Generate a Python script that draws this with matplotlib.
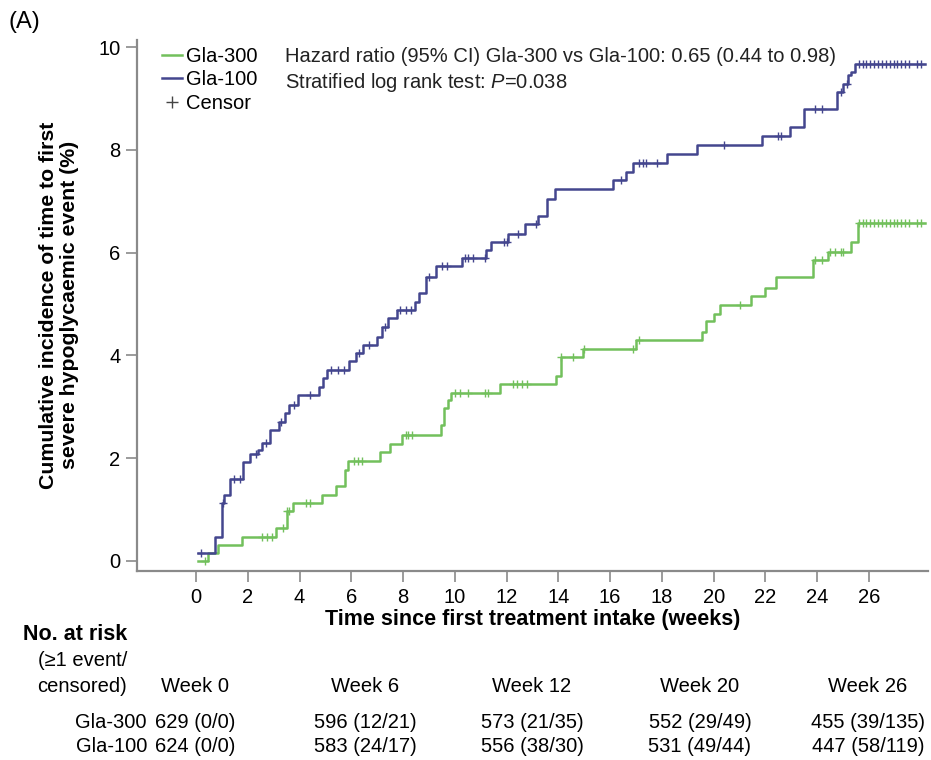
import numpy as np
import matplotlib
matplotlib.use("Agg")
import matplotlib.pyplot as plt
from matplotlib.lines import Line2D

plt.rcParams['font.family'] = ['Liberation Sans', 'DejaVu Sans']
plt.rcParams['mathtext.fontset'] = 'custom'
plt.rcParams['mathtext.rm'] = 'Liberation Sans'
plt.rcParams['mathtext.it'] = 'Liberation Sans:italic'

# step curves: time (weeks) where a new level starts, cumulative incidence (%)
gla100_t = [0.09, 0.73, 0.99, 1.1, 1.31, 1.8, 2.1, 2.4, 2.55, 2.86, 3.2, 3.45, 3.6, 3.95,
            4.75, 4.9, 5.05, 5.9, 6.2, 6.46, 7.0, 7.2, 7.4, 7.75, 8.46, 8.6, 8.88, 9.29,
            10.28, 11.2, 11.4, 12.05, 12.7, 13.2, 13.55, 13.85, 16.1, 16.6, 16.9, 18.2,
            19.35, 21.85, 22.95, 23.5, 24.75, 25.0, 25.2, 25.3, 25.45, 28.15]
gla100_v = [0.16, 0.47, 1.12, 1.28, 1.59, 1.93, 2.08, 2.16, 2.29, 2.55, 2.71, 2.87, 3.03, 3.23,
            3.39, 3.55, 3.72, 3.88, 4.04, 4.2, 4.36, 4.56, 4.72, 4.88, 5.04, 5.21, 5.53, 5.73,
            5.89, 6.05, 6.21, 6.37, 6.56, 6.72, 7.04, 7.23, 7.41, 7.57, 7.74, 7.92,
            8.09, 8.27, 8.44, 8.79, 9.13, 9.29, 9.45, 9.52, 9.67, 9.67]

gla300_t = [0.09, 0.48, 0.86, 1.76, 3.1, 3.5, 3.76, 4.85, 5.4, 5.75, 5.88, 7.1, 7.5, 7.94,
            9.48, 9.6, 9.75, 9.87, 11.74, 13.9, 14.1, 14.96, 17.0, 19.56, 19.7, 20.0, 20.25,
            21.45, 22.0, 22.4, 23.83, 24.4, 25.3, 25.57, 28.15]
gla300_v = [0.0, 0.15, 0.31, 0.47, 0.64, 0.96, 1.12, 1.28, 1.45, 1.77, 1.95, 2.11, 2.28, 2.45,
            2.65, 2.97, 3.13, 3.27, 3.44, 3.6, 3.96, 4.12, 4.29, 4.46, 4.66, 4.81, 4.98,
            5.16, 5.32, 5.52, 5.85, 6.02, 6.21, 6.57, 6.57]

# censoring times (weeks)
gla100_cens = [0.2, 1.05, 1.45, 1.7, 2.3, 2.7, 3.3, 3.8, 4.4, 5.2, 5.5, 5.7, 6.3, 6.7, 7.3,
               7.9, 8.1, 8.3, 9.0, 9.5, 9.7, 10.4, 10.5, 10.7, 11.15, 11.9, 12.0, 12.45,
               13.15, 16.4, 17.1, 17.25, 17.4, 17.8, 20.4, 22.5, 22.6, 23.9, 24.2, 24.9,
               25.15, 25.6, 25.75, 25.9, 26.05, 26.2, 26.35, 26.5, 26.65, 26.8, 26.95, 27.1,
               27.25, 27.4, 27.55, 27.85, 28.0]
gla300_cens = [0.35, 2.55, 2.75, 2.95, 3.35, 3.5, 3.6, 4.25, 4.4, 6.1, 6.25, 6.4, 8.1, 8.2,
               8.35, 10.0, 10.2, 10.5, 11.15, 11.3, 12.25, 12.4, 12.6, 12.8, 14.1, 14.55,
               15.0, 16.9, 17.1, 21.0, 23.9, 24.2, 24.5, 24.7, 24.9, 25.0, 25.6, 25.75, 25.9,
               26.05, 26.2, 26.35, 26.5, 26.65, 26.8, 26.95, 27.1, 27.25, 27.4, 27.55, 27.85,
               28.0]

weeks = ['Week 0', 'Week 6', 'Week 12', 'Week 20', 'Week 26']
risk_300 = ['629 (0/0)', '596 (12/21)', '573 (21/35)', '552 (29/49)', '455 (39/135)']
risk_100 = ['624 (0/0)', '583 (24/17)', '556 (38/30)', '531 (49/44)', '447 (58/119)']

green = '#72c05c'
blue = '#44468e'
grey = '#8a8a8a'

W, H = 931, 760
fig = plt.figure(figsize=(W / 100, H / 100), dpi=100)
ax = fig.add_axes([137 / W, 1 - 571 / H, (928 - 137) / W, (571 - 40) / H])


def level_at(ts, vs, c):
    i = np.searchsorted(ts, c, side='right') - 1
    return vs[max(i, 0)]


for ts, vs, cens, col in [(gla300_t, gla300_v, gla300_cens, green),
                          (gla100_t, gla100_v, gla100_cens, blue)]:
    ax.step(ts, vs, where='post', color=col, lw=1.8)
    cy = [level_at(ts, vs, c) for c in cens]
    ax.plot(cens, cy, ls='none', marker='+', ms=6, mew=1.0, color=col)

ax.set_xlim(-2.28, 28.28)
ax.set_ylim(-0.2, 10.14)
ax.set_xticks(np.arange(0, 27, 2))
ax.set_yticks(np.arange(0, 11, 2))
ax.tick_params(axis='both', direction='out', length=8, width=1.2, color=grey,
               labelsize=14.5, pad=4)
for s in ['top', 'right']:
    ax.spines[s].set_visible(False)
for s in ['left', 'bottom']:
    ax.spines[s].set_color(grey)
    ax.spines[s].set_linewidth(1.6)

ax.set_xlabel('Time since first treatment intake (weeks)', fontsize=15.5,
              fontweight='bold', labelpad=2)
fig.text(59 / W, 1 - 305 / H,
         'Cumulative incidence of time to first\nsevere hypoglycaemic event (%)',
         rotation=90, ha='center', va='center', fontsize=15.3, fontweight='bold',
         linespacing=1.1)

handles = [Line2D([], [], color=green, lw=1.8),
           Line2D([], [], color=blue, lw=1.8),
           Line2D([], [], ls='none', marker='+', ms=9, mew=1.0, color='#444444')]
fig.legend(handles, ['Gla-300', 'Gla-100', 'Censor'], loc='upper left',
           bbox_to_anchor=(162 / W, 1 - 47 / H), frameon=False, fontsize=14.5,
           handlelength=1.0, handletextpad=0.2, labelspacing=0.22, borderpad=0,
           borderaxespad=0)

fig.text(285 / W, 1 - 57 / H,
         'Hazard ratio (95% CI) Gla-300 vs Gla-100: 0.65 (0.44 to 0.98)',
         fontsize=14.5, va='center', color='#222222')
fig.text(285 / W, 1 - 83 / H, 'Stratified log rank test: $P$=0.038',
         fontsize=14.5, va='center', color='#222222')

fig.text(9 / W, 1 - 22 / H, '(A)', fontsize=17, va='center')

# number at risk table
fig.text(127 / W, 1 - 634 / H, 'No. at risk', fontsize=15.5, fontweight='bold',
         ha='right', va='center')
fig.text(127 / W, 1 - 660 / H, '(≥1 event/', fontsize=14.5, ha='right', va='center')
fig.text(127 / W, 1 - 686 / H, 'censored)', fontsize=14.5, ha='right', va='center')
fig.text(147 / W, 1 - 722 / H, 'Gla-300', fontsize=14.5, ha='right', va='center')
fig.text(147 / W, 1 - 746 / H, 'Gla-100', fontsize=14.5, ha='right', va='center')

col_x = [195, 365, 532, 700, 868]
for x, wk, r3, r1 in zip(col_x, weeks, risk_300, risk_100):
    fig.text(x / W, 1 - 686 / H, wk, fontsize=14.5, ha='center', va='center')
    fig.text(x / W, 1 - 722 / H, r3, fontsize=14.5, ha='center', va='center')
    fig.text(x / W, 1 - 746 / H, r1, fontsize=14.5, ha='center', va='center')

fig.savefig('out.png', dpi=100)
